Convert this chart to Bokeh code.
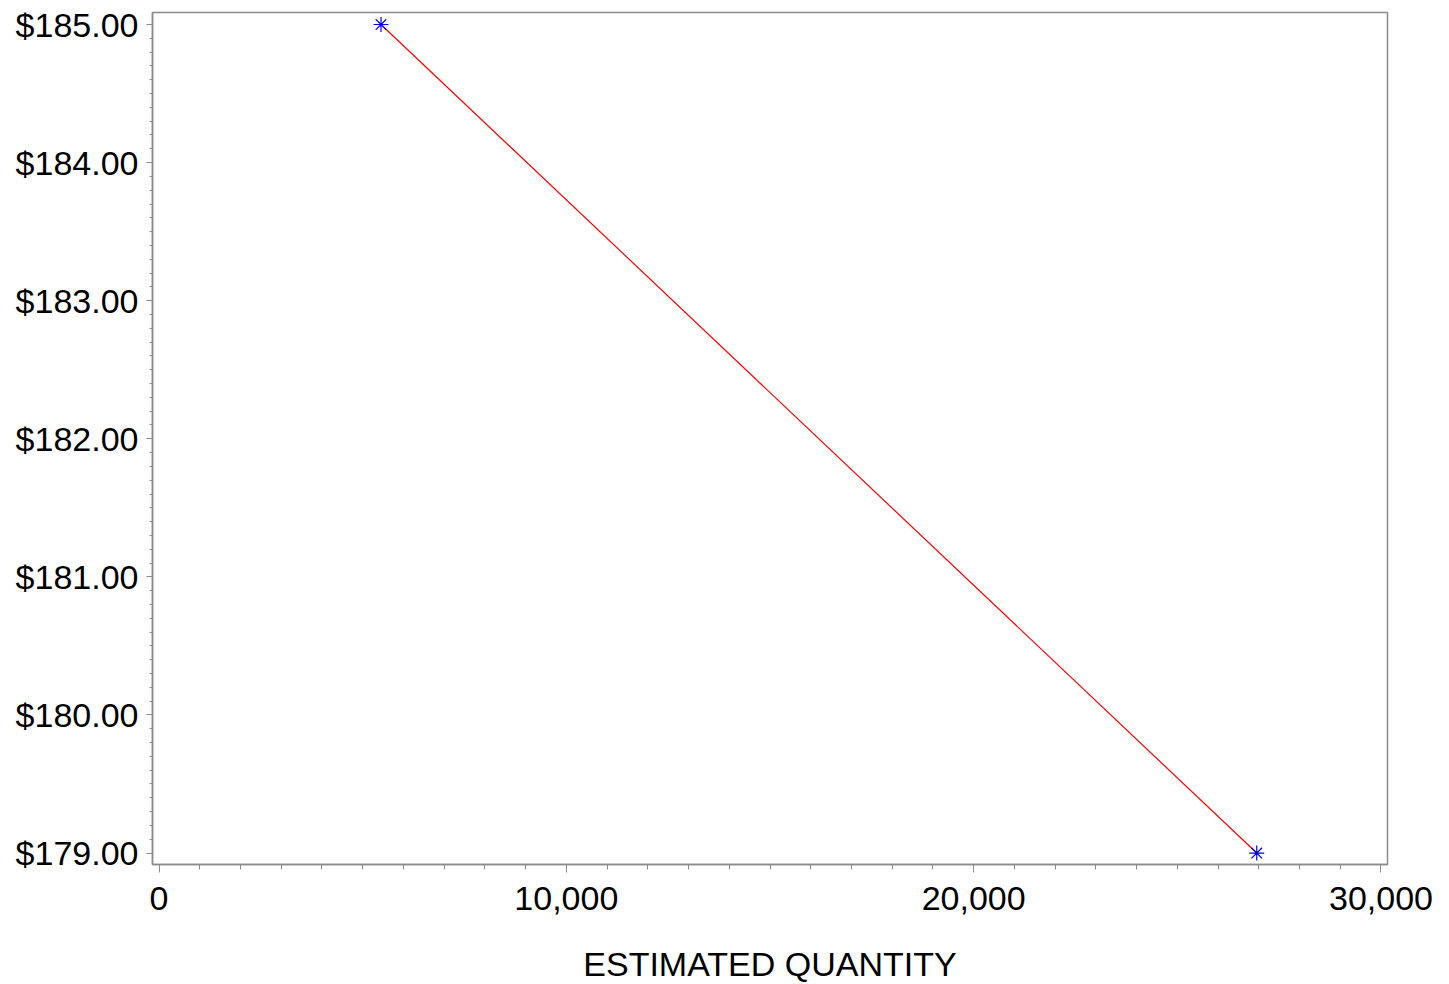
from bokeh.plotting import figure
from bokeh.models import SingleIntervalTicker, NumeralTickFormatter, Range1d
from bokeh.embed import file_html
from bokeh.resources import INLINE

quantity = [5450, 26950]
price = [185.00, 179.00]

x_label = "ESTIMATED QUANTITY"

p = figure(output_backend="svg", toolbar_location=None,
           frame_width=1235, frame_height=852,
           min_border_left=152, min_border_top=12, min_border_right=46, min_border_bottom=104,
           x_range=Range1d(-160, 30160), y_range=Range1d(178.917, 185.087))

p.line(quantity, price, line_color="red", line_width=1.2)
p.scatter(quantity, price, marker="asterisk", size=15, line_color="blue", line_width=1.2)

p.xgrid.visible = False
p.ygrid.visible = False
p.outline_line_color = "#8c8c8c"
p.outline_line_width = 1.5
p.background_fill_color = "white"
p.border_fill_color = "white"

font = "Liberation Sans"

xa = p.xaxis[0]
xa.ticker = SingleIntervalTicker(interval=10000, num_minor_ticks=10)
xa.formatter = NumeralTickFormatter(format="0,0")
xa.axis_label = x_label
xa.axis_label_text_font = font
xa.axis_label_text_font_size = "34px"
xa.axis_label_text_font_style = "normal"
xa.axis_label_text_color = "black"
xa.axis_label_standoff = 32
xa.major_label_text_font = font
xa.major_label_text_font_size = "34px"
xa.major_label_text_color = "black"
xa.major_label_standoff = 14
xa.axis_line_color = "#8c8c8c"
xa.axis_line_width = 1.5
xa.major_tick_line_color = "#8c8c8c"
xa.minor_tick_line_color = "#8c8c8c"
xa.major_tick_out = 8
xa.major_tick_in = 0
xa.minor_tick_out = 5
xa.minor_tick_in = 0

ya = p.yaxis[0]
ya.ticker = SingleIntervalTicker(interval=1, num_minor_ticks=10)
ya.formatter = NumeralTickFormatter(format="$0,0.00")
ya.major_label_text_font = font
ya.major_label_text_font_size = "34px"
ya.major_label_text_color = "black"
ya.major_label_standoff = 8
ya.axis_line_color = "#8c8c8c"
ya.axis_line_width = 1.5
ya.major_tick_line_color = "#8c8c8c"
ya.minor_tick_line_color = "#8c8c8c"
ya.major_tick_out = 6
ya.major_tick_in = 0
ya.minor_tick_out = 3
ya.minor_tick_in = 0

open("out.html", "w").write(file_html(p, INLINE))
